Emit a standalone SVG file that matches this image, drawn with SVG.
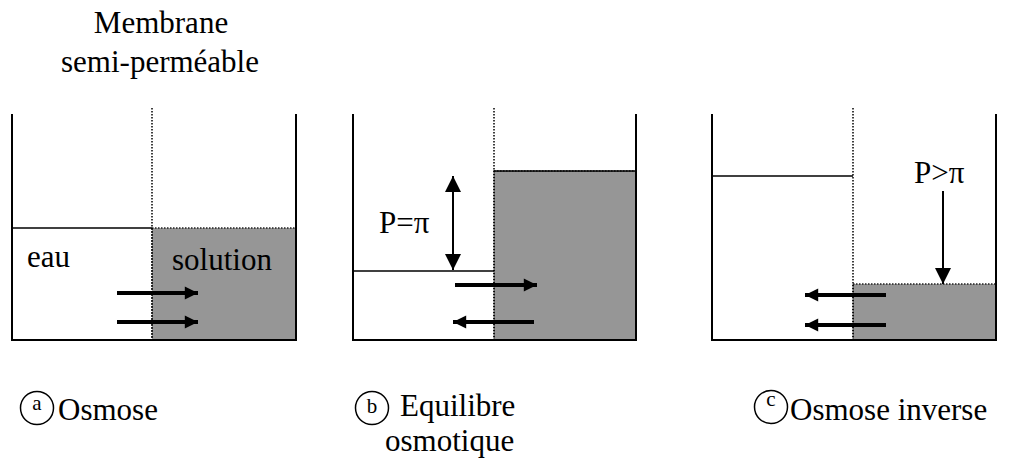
<svg xmlns="http://www.w3.org/2000/svg" width="1013" height="459" viewBox="0 0 1013 459">
<defs>
<style>
.lbl{font-size:31px}
.sm{font-size:21px;text-anchor:middle}
.wall{stroke:#000;stroke-width:2;fill:none}
.lvl{stroke:#000;stroke-width:1.5;fill:none}
.mem{stroke:#000;stroke-width:1.5;stroke-dasharray:1.5 1.5;fill:none}
.sol{fill:#969696;stroke:#222;stroke-width:1.5;stroke-dasharray:1.5 1.5}
.fat{stroke:#000;stroke-width:4;fill:none}
.thin{stroke:#000;stroke-width:2;fill:none}
.ring{fill:none;stroke:#000;stroke-width:1.5}
</style>
<marker id="hd" viewBox="0 0 10 10" refX="10" refY="5" markerWidth="4.2" markerHeight="3.3" markerUnits="strokeWidth" orient="auto">
<path d="M0,0 L10,5 L0,10 Z" fill="#000"/>
</marker>
<marker id="hs" viewBox="0 0 10 10" refX="10" refY="5" markerWidth="8" markerHeight="8.5" markerUnits="strokeWidth" orient="auto-start-reverse">
<path d="M0,0 L10,5 L0,10 Z" fill="#000"/>
</marker>
</defs>
<g font-family="'Liberation Serif', 'Times New Roman', serif" fill="#000">
<g id="title">
<text class="lbl" x="161" y="33" text-anchor="middle">Membrane</text>
<text class="lbl" x="160" y="72" text-anchor="middle">semi-perméable</text>
</g>
<g id="panel-a">
<rect class="sol" x="152" y="228" width="144" height="112"/>
<line class="lvl" x1="12" y1="228" x2="152" y2="228"/>
<line class="mem" x1="152" y1="108" x2="152" y2="340"/>
<path class="wall" d="M12,114 V340 H296 V114"/>
<text class="lbl" x="27" y="267">eau</text>
<text class="lbl" x="172" y="270">solution</text>
</g>
<g id="panel-b">
<rect class="sol" x="494" y="171" width="142" height="169"/>
<line class="lvl" x1="494" y1="171" x2="636" y2="171"/>
<line class="lvl" x1="353" y1="271" x2="494" y2="271"/>
<line class="mem" x1="494" y1="108" x2="494" y2="340"/>
<path class="wall" d="M353,114 V340 H636 V114"/>
<text class="lbl" x="379" y="233">P=π</text>
</g>
<g id="panel-c">
<rect class="sol" x="853" y="284" width="143" height="56"/>
<line class="lvl" x1="712" y1="176" x2="853" y2="176"/>
<line class="mem" x1="853" y1="108" x2="853" y2="340"/>
<path class="wall" d="M712,114 V340 H996 V114"/>
<text class="lbl" x="914" y="183">P&gt;π</text>
</g>
<g id="connectors">
<line class="fat" x1="117" y1="293" x2="198" y2="293" marker-end="url(#hd)"/>
<line class="fat" x1="117" y1="322" x2="198" y2="322" marker-end="url(#hd)"/>
<line class="fat" x1="455" y1="285" x2="537" y2="285" marker-end="url(#hd)"/>
<line class="fat" x1="534" y1="322" x2="453" y2="322" marker-end="url(#hd)"/>
<line class="fat" x1="886" y1="295" x2="805" y2="295" marker-end="url(#hd)"/>
<line class="fat" x1="886" y1="325" x2="805" y2="325" marker-end="url(#hd)"/>
<line class="thin" x1="453" y1="176" x2="453" y2="270" marker-start="url(#hs)" marker-end="url(#hs)"/>
<line class="thin" x1="943" y1="191" x2="943" y2="284" marker-end="url(#hs)"/>
</g>
<g id="label-a">
<ellipse class="ring" cx="37" cy="408" rx="16.5" ry="16.5"/>
<text class="sm" x="37" y="410">a</text>
<text class="lbl" x="58" y="420">Osmose</text>
</g>
<g id="label-b">
<ellipse class="ring" cx="372" cy="408" rx="16.5" ry="16.5"/>
<text class="sm" x="372" y="413">b</text>
<text class="lbl" x="400" y="416">Equilibre</text>
<text class="lbl" x="385" y="451">osmotique</text>
</g>
<g id="label-c">
<ellipse class="ring" cx="771" cy="407" rx="16.5" ry="16.5"/>
<text class="sm" x="771" y="406">c</text>
<text class="lbl" x="790" y="420">Osmose inverse</text>
</g>
</g>
</svg>
